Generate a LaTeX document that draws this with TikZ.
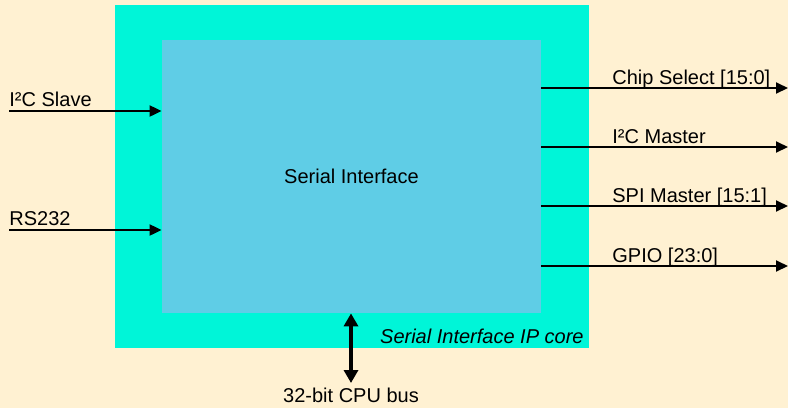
\documentclass[tikz,border=0pt]{standalone}
\usepackage{fontspec}
\setmainfont{Liberation Sans}
\usepackage{xcolor}
\usepackage{tikz}
\usetikzlibrary{positioning,arrows.meta}

\definecolor{paper}{HTML}{FFF1D2}
\definecolor{ipteal}{HTML}{00F5D8}
\definecolor{coreblue}{HTML}{5FCDE6}

\begin{document}
\begin{tikzpicture}[x=0.5pt,y=-0.5pt,
    ipbox/.style={rectangle, fill=ipteal, inner sep=0pt, minimum width=237pt, minimum height=171.5pt},
    corebox/.style={rectangle, fill=coreblue, inner sep=0pt, minimum width=189.5pt, minimum height=136.5pt, font=\fontsize{10}{12}\selectfont},
    lbl/.style={inner sep=0pt, font=\fontsize{10}{12}\selectfont},
    sig/.style={line width=1pt, -{Triangle[length=6pt,width=5.5pt]}},
    busline/.style={line width=2pt, {Triangle[length=6.5pt,width=7pt]}-{Triangle[length=6.5pt,width=7pt]}},]
            %Background
            \fill[paper] (0,0) rectangle (788,408);
            \useasboundingbox (0,0) rectangle (788,408);

            %Nodes
            \node[ipbox](ipcore) at (352,176.5){};
            \node[corebox](core) at (351.5,176.5){Serial Interface};
            \node[lbl, anchor=base east](iplbl) at (584,343){\itshape Serial Interface IP core};

            %Inputs
            \coordinate (slave) at (9,111);
            \coordinate (rs) at (9,230);
            \node[lbl, anchor=base west](slavelbl) at ([yshift=2.5pt]slave){I²C Slave};
            \node[lbl, anchor=base west](rslbl) at ([yshift=2.5pt]rs){RS232};

            %Outputs
            \coordinate (cs) at (788,88);
            \coordinate (i2cm) at (788,147);
            \coordinate (spi) at (788,206);
            \coordinate (gpio) at (788,266);
            \node[lbl, anchor=base west](cslbl) at ([yshift=2pt]612,88){Chip Select [15:0]};
            \node[lbl, anchor=base west](i2cmlbl) at ([yshift=2pt]612,147){I²C Master};
            \node[lbl, anchor=base west](spilbl) at ([yshift=2pt]612,206){SPI Master [15:1]};
            \node[lbl, anchor=base west](gpiolbl) at ([yshift=2pt]612,266){GPIO [23:0]};

            %Bus
            \coordinate (bus) at (351,383);
            \node[lbl, anchor=base](buslbl) at (351,402){32-bit CPU bus};

            %Lines
            \draw[sig] (slave) -- (slave -| core.west);
            \draw[sig] (rs) -- (rs -| core.west);
            \draw[sig] (cs -| core.east) -- (cs);
            \draw[sig] (i2cm -| core.east) -- (i2cm);
            \draw[sig] (spi -| core.east) -- (spi);
            \draw[sig] (gpio -| core.east) -- (gpio);
            \draw[busline] (bus |- core.south) -- (bus);
        \end{tikzpicture}
\end{document}
